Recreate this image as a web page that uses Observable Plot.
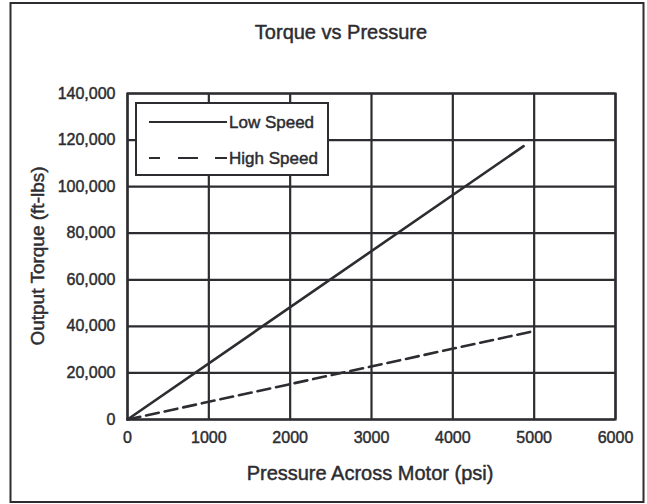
<!DOCTYPE html>
<html>
<head>
<meta charset="utf-8">
<script src="https://cdn.jsdelivr.net/npm/d3@7"></script>
<script src="https://cdn.jsdelivr.net/npm/@observablehq/plot@0.6"></script>
<style>
  html, body { margin: 0; padding: 0; background: #fff; }
  #chart svg { display: block; }
  #chart svg text { stroke: #2c2c31; stroke-width: 0.45px; }
</style>
</head>
<body>
<div id="chart"></div>
<script>
// ---- data ----
const seriesNames = ["Low Speed", "High Speed"];
const lowPressure = [0, 4870];
const lowTorque = [0, 117400];
const highPressure = [0, 5000];
const highTorque = [0, 38000];
const xTicks = [0, 1000, 2000, 3000, 4000, 5000, 6000];
const yTicks = [0, 20000, 40000, 60000, 80000, 100000, 120000, 140000];
const titleText = "Torque vs Pressure";
const xLabel = "Pressure Across Motor (psi)";
const yLabel = "Output Torque (ft-lbs)";

const ink = "#2c2c31";
const font = "'Liberation Sans', Arial, Helvetica, sans-serif";

const rows = [
  ...lowPressure.map((p, i) => ({series: seriesNames[0], p, t: lowTorque[i]})),
  ...highPressure.map((p, i) => ({series: seriesNames[1], p, t: highTorque[i]}))
];

const W = 647, H = 504;
const plot = Plot.plot({
  width: W,
  height: H,
  marginLeft: 127,
  marginRight: 32,
  marginTop: 93,
  marginBottom: 85,
  style: {fontFamily: font, fontSize: "16px", color: ink, background: "#fff", overflow: "visible"},
  x: {domain: [0, 6000], label: null},
  y: {domain: [0, 140000], label: null},
  marks: [
    Plot.gridX(xTicks, {stroke: ink, strokeOpacity: 1, strokeWidth: 2.2}),
    Plot.gridY(yTicks, {stroke: ink, strokeOpacity: 1, strokeWidth: 2.2}),
    Plot.frame({stroke: ink, strokeWidth: 2.2}),
    Plot.axisX(xTicks, {tickSize: 0, tickPadding: 12, fontSize: 16, label: null, fill: ink,
      tickFormat: d => String(d)}),
    Plot.axisY(yTicks, {tickSize: 0, tickPadding: 12, fontSize: 16, label: null, fill: ink,
      tickFormat: d3.format(",")}),
    Plot.line(rows.filter(d => d.series === seriesNames[0]), {x: "p", y: "t", stroke: ink, strokeWidth: 2.6}),
    Plot.line(rows.filter(d => d.series === seriesNames[1]), {x: "p", y: "t", stroke: ink, strokeWidth: 2.6, strokeDasharray: "13,6"})
  ]
});
document.getElementById("chart").appendChild(plot);

const svg = d3.select(plot);
function txt(sel) {
  return sel.attr("font-family", font).attr("fill", ink).attr("font-weight", "normal");
}
// outer border
svg.append("rect").attr("x", 10.5).attr("y", 3).attr("width", 633).attr("height", 499)
  .attr("fill", "none").attr("stroke", ink).attr("stroke-width", 2);
// title
txt(svg.append("text")).attr("x", 341).attr("y", 39).attr("text-anchor", "middle")
  .attr("font-size", 20).text(titleText);
// x label
txt(svg.append("text")).attr("x", 370).attr("y", 480).attr("text-anchor", "middle")
  .attr("font-size", 20).text(xLabel);
// y label
txt(svg.append("text")).attr("transform", "translate(44,256) rotate(-90)").attr("text-anchor", "middle")
  .attr("font-size", 19).text(yLabel);

// legend
const lg = svg.append("g");
lg.append("rect").attr("x", 136).attr("y", 103).attr("width", 192).attr("height", 72)
  .attr("fill", "#fff").attr("stroke", ink).attr("stroke-width", 2);
seriesNames.forEach((name, i) => {
  const y = 122 + i * 36;
  lg.append("line").attr("x1", 149).attr("x2", 227).attr("y1", y).attr("y2", y)
    .attr("stroke", ink).attr("stroke-width", 2)
    .attr("stroke-dasharray", i === 1 ? "11,18,20,17,12" : null);
  txt(lg.append("text")).attr("x", 229).attr("y", y).attr("dy", "0.35em")
    .attr("text-anchor", "start").attr("font-size", 17).text(name);
});
</script>
</body>
</html>
